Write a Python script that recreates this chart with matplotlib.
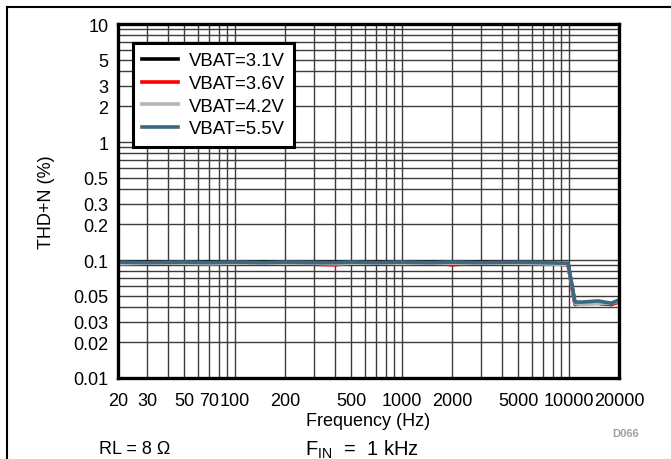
import matplotlib
matplotlib.use("Agg")
import matplotlib.pyplot as plt
from matplotlib.lines import Line2D
from matplotlib.ticker import FixedLocator, FixedFormatter, NullFormatter

plt.rcParams['font.family'] = ['Liberation Sans', 'DejaVu Sans']

# measured THD+N (%) vs frequency, RL = 8 ohm
freq = [20, 30, 50, 70, 100, 150, 200, 300, 400, 500, 700, 1000, 1500, 2000,
        3000, 5000, 7000, 9000, 9900, 10900, 12000, 15000, 18000, 20000]
thd_31 = [0.096, 0.096, 0.095, 0.096, 0.095, 0.096, 0.095, 0.095, 0.096, 0.095, 0.096, 0.095,
          0.096, 0.095, 0.096, 0.096, 0.094, 0.093, 0.093, 0.043, 0.043, 0.043, 0.042, 0.045]
thd_36 = [0.094, 0.095, 0.093, 0.094, 0.095, 0.094, 0.095, 0.092, 0.091, 0.094, 0.095, 0.092,
          0.095, 0.091, 0.095, 0.095, 0.093, 0.092, 0.091, 0.042, 0.043, 0.043, 0.042, 0.044]
thd_42 = [0.093, 0.094, 0.094, 0.093, 0.094, 0.094, 0.094, 0.094, 0.093, 0.094, 0.094, 0.094,
          0.094, 0.094, 0.094, 0.094, 0.093, 0.092, 0.092, 0.043, 0.042, 0.043, 0.043, 0.045]
thd_55 = [0.096, 0.095, 0.096, 0.095, 0.096, 0.095, 0.096, 0.095, 0.095, 0.096, 0.095, 0.096,
          0.095, 0.096, 0.095, 0.096, 0.095, 0.094, 0.094, 0.044, 0.044, 0.045, 0.043, 0.046]

series = [("VBAT=3.1V", thd_31, "#000000"),
          ("VBAT=3.6V", thd_36, "#ff0000"),
          ("VBAT=4.2V", thd_42, "#b4b4b4"),
          ("VBAT=5.5V", thd_55, "#3a6a82")]

x_ticks = [20, 30, 50, 70, 100, 200, 500, 1000, 2000, 5000, 10000, 20000]
y_ticks = [0.01, 0.02, 0.03, 0.05, 0.1, 0.2, 0.3, 0.5, 1, 2, 3, 5, 10]
y_labels = ["0.01", "0.02", "0.03", "0.05", "0.1", "0.2", "0.3", "0.5", "1", "2", "3", "5", "10"]

fig = plt.figure(figsize=(6.71, 4.60), dpi=100)
ax = fig.add_axes([118 / 671, 1 - 379 / 460, (619 - 118) / 671, (379 - 25) / 460])

for label, vals, color in series:
    ax.plot(freq, vals, color=color, lw=2.6, label=label)

ax.set_xscale("log")
ax.set_yscale("log")
ax.set_xlim(20, 20000)
ax.set_ylim(0.01, 10)

ax.xaxis.set_major_locator(FixedLocator(x_ticks))
ax.xaxis.set_major_formatter(FixedFormatter([str(t) for t in x_ticks]))
ax.xaxis.set_minor_formatter(NullFormatter())
ax.yaxis.set_major_locator(FixedLocator(y_ticks))
ax.yaxis.set_major_formatter(FixedFormatter(y_labels))
ax.yaxis.set_minor_formatter(NullFormatter())

# full decade grid on both axes
x_grid = [m * 10 ** d for d in range(1, 5) for m in range(1, 10)]
y_grid = [m * 10.0 ** d for d in range(-2, 1) for m in range(1, 10)]
for xv in x_grid:
    if 20 < xv < 20000:
        ax.axvline(xv, color="#3c3c3c", lw=1.0, zorder=0)
for yv in y_grid:
    if 0.01 < yv < 10:
        ax.axhline(yv, color="#3c3c3c", lw=1.0, zorder=0)

ax.tick_params(which="both", length=0, labelsize=13)
ax.tick_params(axis="x", pad=10)
ax.tick_params(axis="y", pad=7)
for s in ax.spines.values():
    s.set_linewidth(2.4)

ax.set_xlabel("Frequency (Hz)", fontsize=13, labelpad=2)
ax.set_ylabel("THD+N (%)", fontsize=13, labelpad=13)

leg = ax.legend(loc="upper left", bbox_to_anchor=(0.03, 0.946), fontsize=13.4,
                frameon=True, fancybox=False, handlelength=1.9, borderpad=0.5,
                labelspacing=0.3, handletextpad=0.6, borderaxespad=0)
leg.get_frame().set_edgecolor("black")
leg.get_frame().set_linewidth(2.2)
leg.get_frame().set_alpha(1)

fig.text(626 / 671, 1 - 434 / 460, "D066", fontsize=8, color="#a0a0a0",
         ha="center", va="center", fontweight="bold")
fig.text(99 / 671, 1 - 450 / 460, "RL = 8 Ω", fontsize=13, ha="left", va="center")
fig.text(305 / 671, 1 - 450 / 460, "F$_{\\mathregular{IN}}$  =  1 kHz", fontsize=14.5,
         ha="left", va="center")

# page frame lines
fig.add_artist(Line2D([7 / 671, 7 / 671], [0, 1 - 8 / 460], color="black", lw=1.5))
fig.add_artist(Line2D([7 / 671, 1], [1 - 8 / 460, 1 - 8 / 460], color="black", lw=1.5))

fig.savefig("out.png", dpi=100)
